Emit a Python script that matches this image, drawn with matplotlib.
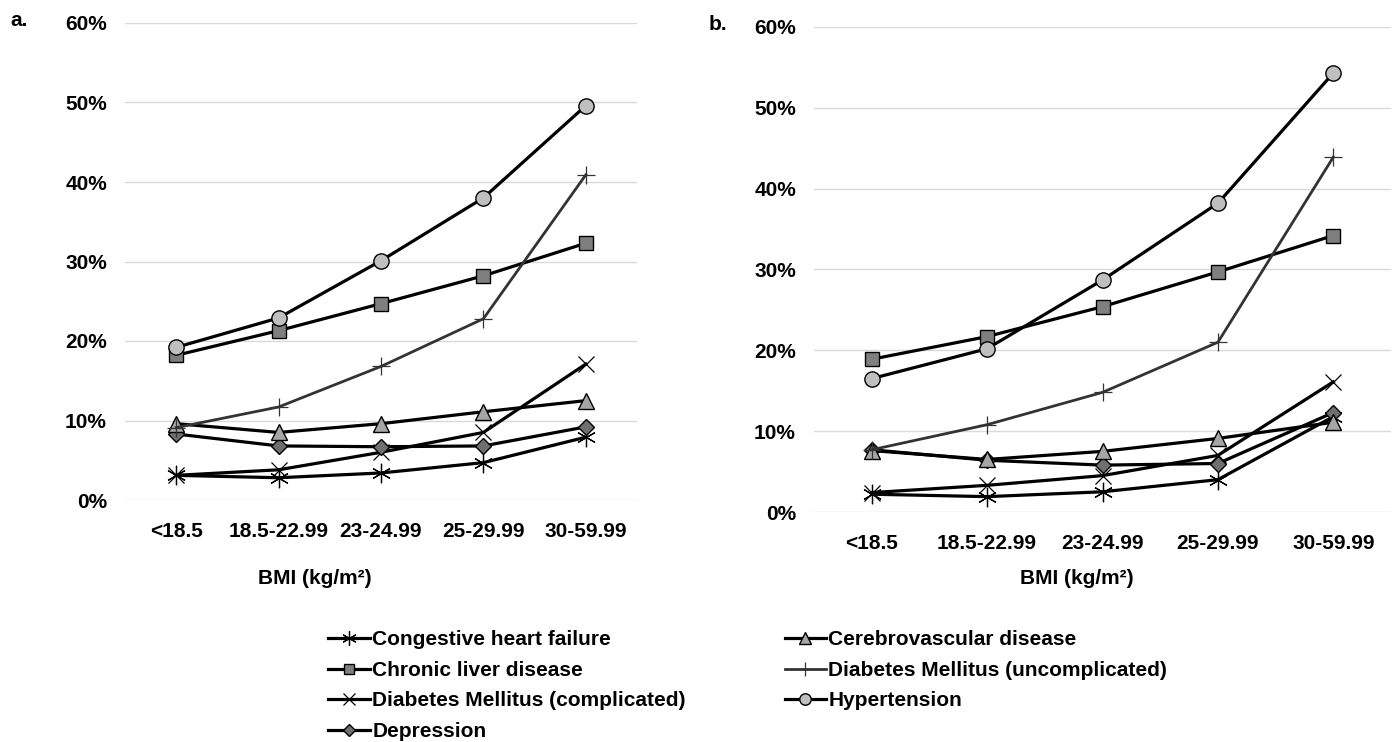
import matplotlib
matplotlib.use("Agg")
import matplotlib.pyplot as plt
from matplotlib.ticker import FuncFormatter, MultipleLocator
from matplotlib.lines import Line2D

plt.rcParams['font.family'] = ['Liberation Sans', 'DejaVu Sans']

categories = ["<18.5", "18.5-22.99", "23-24.99", "25-29.99", "30-59.99"]
series_names = ["Congestive heart failure", "Chronic liver disease",
                "Diabetes Mellitus (complicated)", "Depression",
                "Cerebrovascular disease", "Diabetes Mellitus (uncomplicated)",
                "Hypertension"]

# Panel a (%)
a_chf = [3.1, 2.8, 3.4, 4.7, 7.9]
a_cld = [18.2, 21.3, 24.7, 28.2, 32.3]
a_dmc = [3.1, 3.8, 6.0, 8.5, 17.1]
a_dep = [8.3, 6.8, 6.7, 6.8, 9.2]
a_cvd = [9.6, 8.5, 9.6, 11.1, 12.5]
a_dmu = [9.1, 11.7, 16.8, 22.8, 40.9]
a_htn = [19.2, 22.9, 30.1, 38.0, 49.6]

# Panel b (%)
b_chf = [2.2, 1.9, 2.5, 4.0, 11.8]
b_cld = [18.9, 21.7, 25.4, 29.7, 34.2]
b_dmc = [2.4, 3.3, 4.5, 7.0, 16.1]
b_dep = [7.7, 6.4, 5.8, 6.0, 12.3]
b_cvd = [7.6, 6.5, 7.5, 9.1, 11.1]
b_dmu = [7.7, 10.8, 14.8, 21.0, 43.9]
b_htn = [16.5, 20.2, 28.7, 38.2, 54.3]

styles = [
    dict(marker=(6, 2, 0), color='black', lw=2.3, ms=14, mew=0.9, mfc='none', mec='black'),
    dict(marker='s', color='black', lw=2.3, ms=10, mew=1.0, mfc='#7f7f7f', mec='black'),
    dict(marker='x', color='black', lw=2.3, ms=12, mew=0.9, mfc='none', mec='black'),
    dict(marker='D', color='black', lw=2.3, ms=8, mew=1.0, mfc='#6f6f6f', mec='black'),
    dict(marker='^', color='black', lw=2.3, ms=11, mew=1.0, mfc='#a6a6a6', mec='black'),
    dict(marker='+', color='#333333', lw=2.0, ms=13, mew=0.9, mfc='none', mec='#333333'),
    dict(marker='o', color='black', lw=2.3, ms=11, mew=1.0, mfc='#bfbfbf', mec='black'),
]

fig = plt.figure(figsize=(13.95, 7.42), dpi=100)
W, H = 1395, 742

def make_ax(x0, x1, y_top, y_bot, data, letter, lx, ly, xlabel_x):
    ax = fig.add_axes([x0 / W, 1 - y_bot / H, (x1 - x0) / W, (y_bot - y_top) / H])
    x = list(range(len(categories)))
    for vals, st in zip(data, styles):
        ax.plot(x, [v / 100 for v in vals], zorder=3, **st)
    ax.set_xlim(-0.5, 4.5)
    ax.set_ylim(0, 0.6)
    ax.yaxis.set_major_locator(MultipleLocator(0.1))
    ax.yaxis.set_major_formatter(FuncFormatter(lambda v, p: f"{v*100:.0f}%"))
    ax.set_xticks(x)
    ax.set_xticklabels(categories)
    ax.grid(axis='y', color='#d9d9d9', lw=1.0, zorder=0)
    for s in ax.spines.values():
        s.set_visible(False)
    ax.tick_params(length=0, labelsize=15)
    ax.tick_params(axis='y', pad=13)
    ax.tick_params(axis='x', pad=16)
    for t in ax.get_xticklabels() + ax.get_yticklabels():
        t.set_fontweight('bold')
    fig.text(lx / W, 1 - ly / H, letter, fontsize=15, fontweight='bold',
             ha='left', va='center')
    fig.text(xlabel_x / W, 1 - 578 / H, "BMI (kg/m\u00b2)", fontsize=15, fontweight='bold',
             ha='center', va='center')
    return ax

make_ax(125, 637, 23, 500, [a_chf, a_cld, a_dmc, a_dep, a_cvd, a_dmu, a_htn],
        "a.", 10, 20, 315)
make_ax(814, 1391, 27, 512, [b_chf, b_cld, b_dmc, b_dep, b_cvd, b_dmu, b_htn],
        "b.", 709, 25, 1077)

handles = [Line2D([], [], **{**st, 'ms': st['ms'] * 0.75}) for st in styles]
leg = fig.legend(handles, series_names, ncol=2, loc='upper left',
                 bbox_to_anchor=(318 / W, 1 - 620 / H), frameon=False,
                 prop=dict(weight='bold', size=15),
                 handlelength=2.0, handletextpad=0.1, columnspacing=4.75,
                 labelspacing=0.55, borderpad=0)

fig.savefig("out.png", dpi=100)
